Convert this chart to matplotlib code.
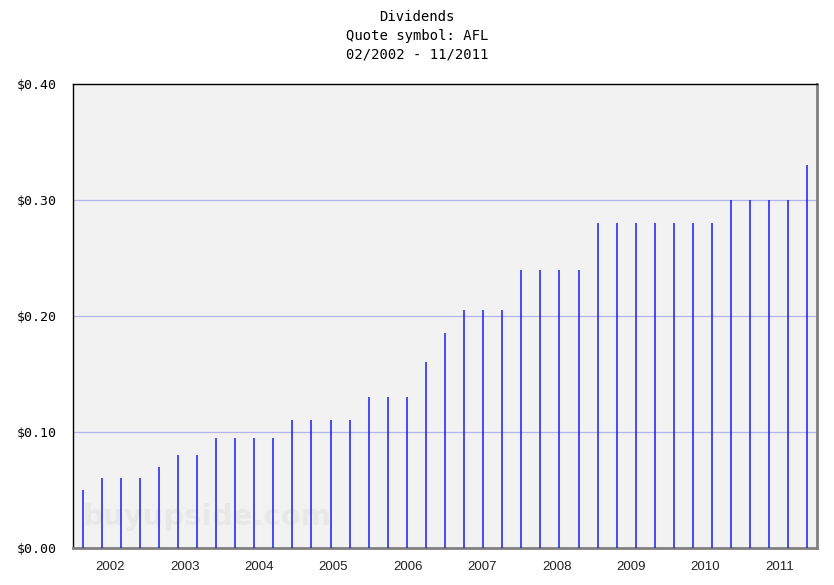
import numpy as np
import matplotlib
matplotlib.use('Agg')
import matplotlib.pyplot as plt

# quarterly dividends, 02/2002 - 11/2011
dividends = [0.05, 0.06, 0.06, 0.06,
             0.07, 0.08, 0.08, 0.095,
             0.095, 0.095, 0.095, 0.11,
             0.11, 0.11, 0.11, 0.13,
             0.13, 0.13, 0.16, 0.185,
             0.205, 0.205, 0.205, 0.24,
             0.24, 0.24, 0.24, 0.28,
             0.28, 0.28, 0.28, 0.28,
             0.28, 0.28, 0.30, 0.30,
             0.30, 0.30, 0.33]
years = np.arange(2002, 2012)
yticks = [0.0, 0.1, 0.2, 0.3, 0.4]

n = len(dividends)
x = np.arange(n) + 0.5

fig = plt.figure(figsize=(8.34, 5.85), dpi=100)
ax = fig.add_axes([73 / 834, 37 / 585, 744 / 834, 464 / 585])
ax.set_facecolor('#f2f2f2')

for y in yticks[1:-1]:
    ax.axhline(y, color='#b4b4f0', lw=0.9, zorder=1)

ax.text(0.18, 0.067, 'buyupside.com', transform=ax.transAxes, ha='center', va='center',
        fontsize=21, fontweight='bold', color='#e8e8e8', zorder=1)

ax.vlines(x, 0, dividends, color='#1a1aff', lw=1.1, zorder=3)

ax.set_xlim(0, n)
ax.set_ylim(0, 0.4)
ax.set_yticks(yticks)
ax.set_yticklabels(['$%.2f' % v for v in yticks], family='DejaVu Sans Mono', fontsize=9.5)
ax.set_xticks((years - 2002 + 0.5) * n / 10)
ax.set_xticklabels([str(y) for y in years], family='Liberation Sans', fontsize=9.5, color='#222222')
ax.tick_params(length=0, pad=9)
ax.tick_params(axis='y', pad=12)

ax.spines['left'].set_color('black')
ax.spines['top'].set_color('black')
ax.spines['left'].set_linewidth(1)
ax.spines['top'].set_linewidth(1)
ax.spines['bottom'].set_color('#808080')
ax.spines['bottom'].set_linewidth(2)
ax.spines['right'].set_color('#808080')
ax.spines['right'].set_linewidth(2)

fig.text(0.5, 1 - 17 / 585, 'Dividends', ha='center', va='center', family='DejaVu Sans Mono', fontsize=10)
fig.text(0.5, 1 - 36 / 585, 'Quote symbol: AFL', ha='center', va='center', family='DejaVu Sans Mono', fontsize=10)
fig.text(0.5, 1 - 54 / 585, '02/2002 - 11/2011', ha='center', va='center', family='DejaVu Sans Mono', fontsize=10)

fig.savefig('out.png', dpi=100, facecolor='white')
